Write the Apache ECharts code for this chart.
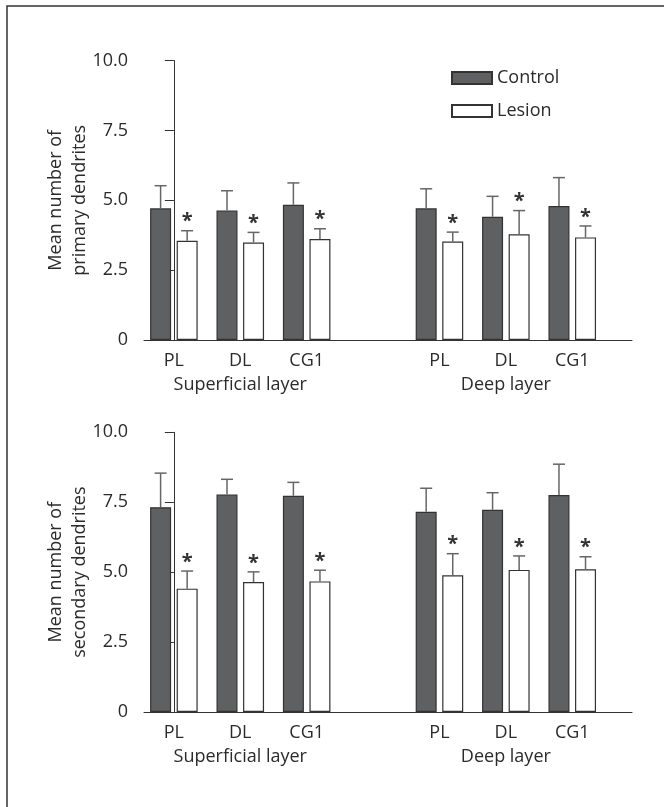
<!DOCTYPE html>
<html>
<head>
    <meta charset="utf-8">
    <title>Dendrites</title>
    <script src="https://cdn.jsdelivr.net/npm/echarts@6/dist/echarts.min.js"></script>
</head>
<body style="margin:0;background:#fff;">
<div id="main" style="width:664px;height:807px;"></div>
<script type="text/javascript">
    // categories: three regions in each of two layers, gap in between
    var regions = ['PL', 'DL', 'CG1', 'PL', 'DL', 'CG1'];
    var regionPos = [0, 1, 2, 4, 5, 6];
    var layers = ['Superficial layer', 'Deep layer'];
    var layerPos = [1, 5];

    // primary dendrites: means and top of error bar (mean + SD)
    var primaryControl = [4.71, 4.63, 4.84, 4.71, 4.41, 4.79];
    var primaryControlTop = [5.52, 5.34, 5.62, 5.41, 5.14, 5.81];
    var primaryLesion = [3.55, 3.49, 3.61, 3.52, 3.78, 3.67];
    var primaryLesionTop = [3.91, 3.85, 3.98, 3.86, 4.63, 4.08];

    // secondary dendrites
    var secondaryControl = [7.32, 7.78, 7.73, 7.16, 7.23, 7.76];
    var secondaryControlTop = [8.54, 8.32, 8.21, 8.00, 7.84, 8.86];
    var secondaryLesion = [4.41, 4.65, 4.67, 4.89, 5.08, 5.10];
    var secondaryLesionTop = [5.04, 5.01, 5.07, 5.66, 5.58, 5.55];

    // significance marks (*) over lesion bars
    var lesionSig = [true, true, true, true, true, true];

    var txt = '#2b2b2b';
    var font = 'Open Sans';
    var fs = 18;
    var barShift = 0.2;

    var myChart = echarts.init(document.getElementById('main'));

    function xAxes(gi) {
        return [{
            type: 'value', gridIndex: gi, position: 'bottom', min: -0.45, max: 6.9,
            axisLine: {show: true, lineStyle: {color: '#333', width: 1}},
            axisTick: {show: false}, splitLine: {show: false},
            axisLabel: {
                customValues: regionPos, margin: 12, fontSize: fs, fontFamily: font, color: txt,
                formatter: function (v) { return regions[regionPos.indexOf(Math.round(v))]; }
            }
        }, {
            type: 'value', gridIndex: gi, position: 'bottom', min: -0.45, max: 6.9,
            axisLine: {show: false}, axisTick: {show: false}, splitLine: {show: false},
            axisLabel: {
                customValues: layerPos, margin: 36, fontSize: fs, fontFamily: font, color: txt,
                formatter: function (v) { return layers[layerPos.indexOf(Math.round(v))]; }
            }
        }];
    }

    function yAxis(gi, name) {
        return {
            type: 'value', gridIndex: gi, min: 0, max: 10, interval: 2.5,
            name: name, nameLocation: 'middle', nameGap: 52, nameMoveOverlap: false,
            nameTextStyle: {fontSize: fs, fontFamily: font, color: txt, lineHeight: 24},
            axisLine: {show: true, lineStyle: {color: '#333', width: 1}},
            axisTick: {show: true, length: 9, lineStyle: {color: '#333'}},
            splitLine: {show: false},
            axisLabel: {
                margin: 16, fontSize: fs, fontFamily: font, color: txt,
                formatter: function (v) { return v === 0 ? '0' : v.toFixed(1); }
            }
        };
    }

    function bars(gi, name, vals, shift, fill) {
        return {
            name: name, type: 'bar', xAxisIndex: gi * 2, yAxisIndex: gi,
            barWidth: 21, barGap: '-100%',
            itemStyle: {color: fill, borderColor: '#333', borderWidth: 1.2},
            data: regionPos.map(function (p, i) { return [p + shift, vals[i]]; })
        };
    }

    function errors(gi, vals, tops, shift, sig) {
        return {
            type: 'custom', xAxisIndex: gi * 2, yAxisIndex: gi, z: 5, silent: true,
            data: regionPos.map(function (p, i) {
                return [p + shift, vals[i], tops[i], sig && sig[i] ? 1 : 0];
            }),
            renderItem: function (params, api) {
                var x = api.value(0);
                var p0 = api.coord([x, api.value(1)]);
                var p1 = api.coord([x, api.value(2)]);
                var st = {stroke: '#666', lineWidth: 1.5};
                var kids = [
                    {type: 'line', shape: {x1: p0[0], y1: p0[1], x2: p1[0], y2: p1[1]}, style: st},
                    {type: 'line', shape: {x1: p1[0] - 6, y1: p1[1], x2: p1[0] + 6, y2: p1[1]}, style: st}
                ];
                if (api.value(3)) {
                    kids.push({
                        type: 'text',
                        style: {
                            text: '*', x: p1[0], y: p1[1] + 1, align: 'center', verticalAlign: 'bottom',
                            fontSize: 20, fontWeight: 'bold', fontFamily: font, fill: '#333'
                        }
                    });
                }
                return {type: 'group', children: kids};
            }
        };
    }

    var option = {
        animation: false,
        backgroundColor: '#fff',
        textStyle: {fontFamily: font},
        legend: {
            data: ['Control', 'Lesion'], orient: 'vertical', left: 446, top: 64,
            icon: 'rect', itemWidth: 40, itemHeight: 12, itemGap: 15, selectedMode: false,
            textStyle: {fontSize: fs, fontFamily: font, color: txt}
        },
        grid: [
            {left: 144, width: 488, top: 60.5, height: 279.5},
            {left: 144, width: 488, top: 432.3, height: 279.7}
        ],
        xAxis: xAxes(0).concat(xAxes(1)),
        yAxis: [
            yAxis(0, 'Mean number of\nprimary dendrites'),
            yAxis(1, 'Mean number of\nsecondary dendrites')
        ],
        series: [
            bars(0, 'Control', primaryControl, -barShift, '#5f6062'),
            bars(0, 'Lesion', primaryLesion, barShift, '#ffffff'),
            errors(0, primaryControl, primaryControlTop, -barShift, null),
            errors(0, primaryLesion, primaryLesionTop, barShift, lesionSig),
            bars(1, 'Control', secondaryControl, -barShift, '#5f6062'),
            bars(1, 'Lesion', secondaryLesion, barShift, '#ffffff'),
            errors(1, secondaryControl, secondaryControlTop, -barShift, null),
            errors(1, secondaryLesion, secondaryLesionTop, barShift, lesionSig)
        ],
        graphic: [{
            type: 'polyline', silent: true,
            shape: {points: [[7, 807], [7, 6], [664, 6]]},
            style: {stroke: '#333', lineWidth: 1.5, fill: null}
        }]
    };

    myChart.setOption(option);
</script>
</body>
</html>
